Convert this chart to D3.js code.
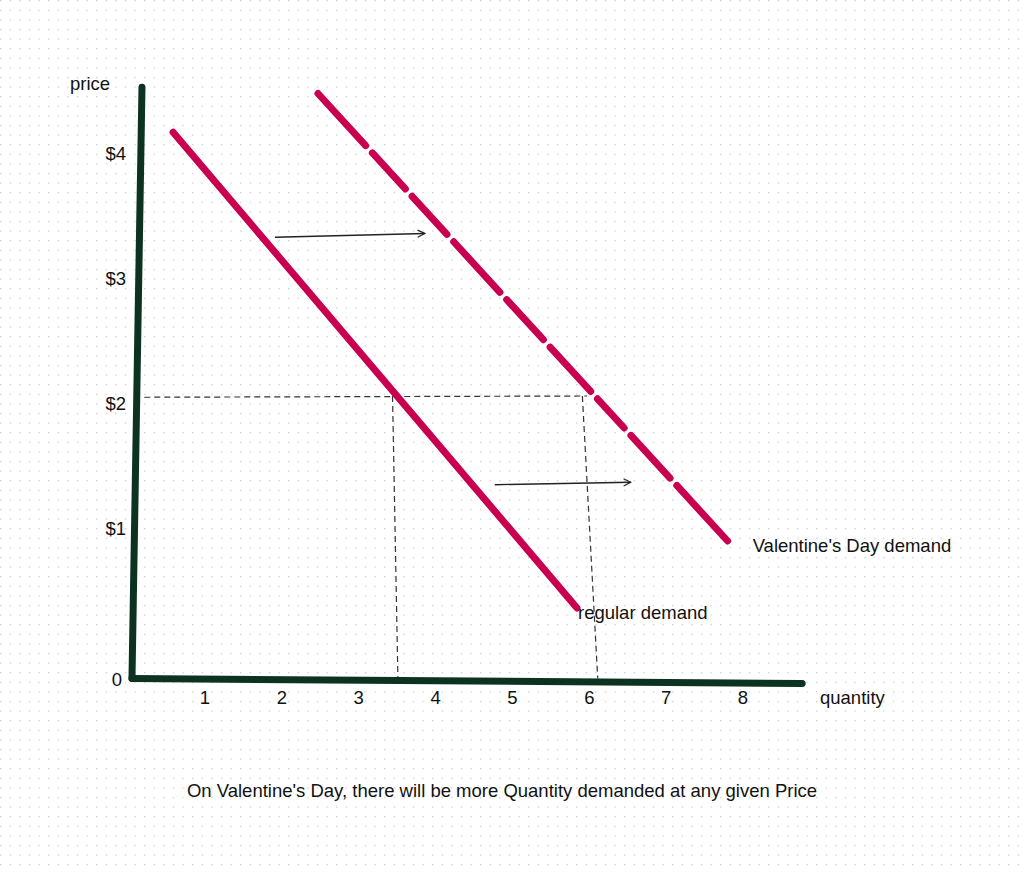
<!DOCTYPE html>
<html>
<head>
<meta charset="utf-8">
<script src="https://cdn.jsdelivr.net/npm/d3@7"></script>
<style>
  html, body { margin: 0; padding: 0; background: #ffffff; }
  svg { display: block; }
  text { font-family: "Liberation Sans", Arial, sans-serif; fill: #111; }
</style>
</head>
<body>
<svg id="chart" width="1024" height="872"></svg>
<script>
// ---- data ----
const quantityTicks = [1, 2, 3, 4, 5, 6, 7, 8];
const priceTicks = [1, 2, 3, 4];
const priceTickLabels = ["$1", "$2", "$3", "$4"];
const originLabel = "0";
// demand curves: [quantity, price]
const regularDemand = [[0.585, 4.15], [5.84, 0.344]];
const valentineDemand = [[2.47, 4.46], [7.80, 0.88]];
// equilibrium reference at price $2
const refPrice = 2;
const refQuantities = [3.5, 6.0];
// shift arrows: [from, to]
const shiftArrows = [
  [[1.91, 3.31], [3.86, 3.34]],
  [[4.77, 1.33], [6.54, 1.35]]
];
// hand-drawn axes, in data units
const yAxisLine = [[0.18, 4.51], [0.05, -0.22]];
const xAxisLine = [[0.05, -0.22], [8.77, -0.26]];
const labels = {
  yTitle: "price",
  xTitle: "quantity",
  regular: "regular demand",
  valentine: "Valentine's Day demand",
  caption: "On Valentine's Day, there will be more Quantity demanded at any given Price"
};

// ---- drawing ----
const svg = d3.select("#chart");
const W = 1024, H = 872;

const x = d3.scaleLinear().domain([1, 8]).range([205, 743]);
const y = d3.scaleLinear().domain([1, 4]).range([526, 151]);

// dotted background
const defs = svg.append("defs");
const pat = defs.append("pattern").attr("id", "dots")
  .attr("patternUnits", "userSpaceOnUse").attr("width", 9.6).attr("height", 9.6);
pat.append("rect").attr("x", 0).attr("y", 0).attr("width", 1.4).attr("height", 1.4).attr("fill", "#d0d0d0");
svg.append("rect").attr("width", W).attr("height", H).attr("fill", "#fff");
svg.append("rect").attr("width", W).attr("height", H).attr("fill", "url(#dots)");

defs.append("marker").attr("id", "arrow")
  .attr("viewBox", "0 0 10 10").attr("refX", 9).attr("refY", 5)
  .attr("markerWidth", 9).attr("markerHeight", 9).attr("markerUnits", "userSpaceOnUse")
  .attr("orient", "auto")
  .append("path").attr("d", "M1,1 L9,5 L1,9").attr("fill", "none")
  .attr("stroke", "#222").attr("stroke-width", 1.4);

const line = d3.line().x(d => x(d[0])).y(d => y(d[1]));

// dashed reference lines
const refColor = "#333";
svg.append("path")
  .attr("d", line([[yAxisLine[0][0] + 0.03, refPrice + 0.03], [refQuantities[1] - 0.03, refPrice + 0.04]]))
  .attr("stroke", refColor).attr("stroke-width", 1.2).attr("stroke-dasharray", "6,4").attr("fill", "none");
refQuantities.forEach((q, i) => {
  svg.append("path")
    .attr("d", line([[q - 0.06 - i * 0.03, refPrice + 0.04], [q + 0.01 + i * 0.1, -0.22]]))
    .attr("stroke", refColor).attr("stroke-width", 1.2).attr("stroke-dasharray", "6,4").attr("fill", "none");
});

// axes
const axisColor = "#0c3321";
[yAxisLine, xAxisLine].forEach(a => {
  svg.append("path").attr("d", line(a))
    .attr("stroke", axisColor).attr("stroke-width", 7)
    .attr("stroke-linecap", "round").attr("fill", "none");
});

// demand curves
const demandColor = "#c8004f";
svg.append("path").attr("d", line(regularDemand))
  .attr("stroke", demandColor).attr("stroke-width", 7)
  .attr("stroke-linecap", "round").attr("fill", "none");
svg.append("path").attr("d", line(valentineDemand))
  .attr("stroke", demandColor).attr("stroke-width", 7)
  .attr("stroke-linecap", "round").attr("fill", "none")
  .attr("stroke-dasharray", "70.6,10,48.8,10,51.6,10,68.5,10,54.3,10,60.1,10,39.6,10,57.9,10,90,10");

// shift arrows
shiftArrows.forEach(a => {
  svg.append("path").attr("d", line(a))
    .attr("stroke", "#222").attr("stroke-width", 1.3).attr("fill", "none")
    .attr("marker-end", "url(#arrow)");
});

const fs = 18.5;
// x tick labels
svg.append("g").selectAll("text").data(quantityTicks).join("text")
  .attr("x", d => x(d)).attr("y", 697)
  .attr("text-anchor", "middle").attr("dominant-baseline", "central")
  .attr("font-size", fs).text(d => d);

// y tick labels
svg.append("g").selectAll("text").data(priceTicks).join("text")
  .attr("x", 126).attr("y", d => y(d) + 2)
  .attr("text-anchor", "end").attr("dominant-baseline", "central")
  .attr("font-size", fs).text((d, i) => priceTickLabels[i]);

svg.append("text").attr("x", 122).attr("y", 679)
  .attr("text-anchor", "end").attr("dominant-baseline", "central")
  .attr("font-size", fs).text(originLabel);

svg.append("text").attr("x", 70).attr("y", 83)
  .attr("dominant-baseline", "central").attr("font-size", fs).text(labels.yTitle);
svg.append("text").attr("x", 820).attr("y", 697)
  .attr("dominant-baseline", "central").attr("font-size", fs).text(labels.xTitle);

svg.append("text").attr("x", x(regularDemand[1][0]) + 1).attr("y", 612)
  .attr("dominant-baseline", "central").attr("font-size", fs).text(labels.regular);
svg.append("text").attr("x", x(valentineDemand[1][0]) + 25).attr("y", 545)
  .attr("dominant-baseline", "central").attr("font-size", fs).text(labels.valentine);

svg.append("text").attr("x", 502).attr("y", 790)
  .attr("text-anchor", "middle").attr("dominant-baseline", "central")
  .attr("font-size", fs).text(labels.caption);
</script>
</body>
</html>
